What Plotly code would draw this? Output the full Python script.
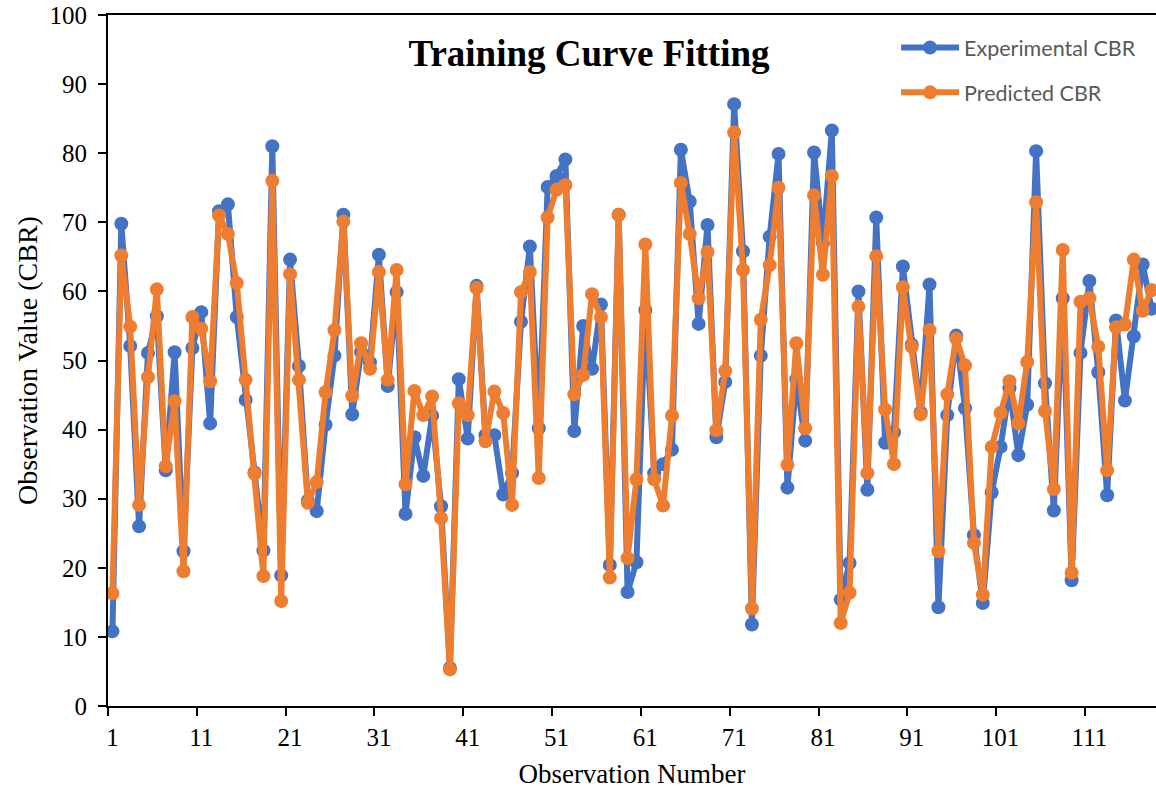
import plotly.graph_objects as go

# Observation index (1..118)
observations = list(range(1, 119))

# Experimental CBR values
experimental_cbr = [
    10.8, 69.8, 52.1, 26.0, 51.1, 56.4, 34.1, 51.2, 22.4, 51.8,
    57.0, 40.9, 71.6, 72.6, 56.3, 44.3, 33.8, 22.5, 81.0, 18.9,
    64.6, 49.2, 29.7, 28.2, 40.7, 50.7, 71.1, 42.2, 51.2, 49.7,
    65.3, 46.3, 59.9, 27.8, 38.9, 33.3, 42.0, 28.9, 5.5, 47.3,
    38.7, 60.8, 39.2, 39.2, 30.6, 33.7, 55.6, 66.5, 40.2, 75.1,
    76.7, 79.1, 39.8, 55.0, 48.8, 58.1, 20.4, 71.1, 16.5, 20.8,
    57.3, 33.7, 35.0, 37.1, 80.5, 73.0, 55.3, 69.6, 38.9, 46.9,
    87.1, 65.8, 11.8, 50.7, 67.9, 79.9, 31.6, 47.3, 38.4, 80.1,
    67.0, 83.3, 15.4, 20.7, 60.0, 31.3, 70.7, 38.1, 39.6, 63.6,
    52.3, 42.5, 61.0, 14.3, 42.1, 53.6, 43.1, 24.7, 14.9, 30.9,
    37.5, 46.0, 36.3, 43.6, 80.3, 46.7, 28.3, 59.0, 18.2, 51.1,
    61.5, 48.3, 30.5, 55.8, 44.2, 53.5, 63.9, 57.5,
]

# Model-predicted CBR values
predicted_cbr = [
    16.3, 65.2, 54.9, 29.1, 47.6, 60.3, 34.7, 44.1, 19.5, 56.3,
    54.6, 47.0, 71.0, 68.3, 61.2, 47.2, 33.6, 18.8, 76.0, 15.2,
    62.5, 47.2, 29.4, 32.4, 45.4, 54.4, 70.1, 44.9, 52.5, 48.8,
    62.8, 47.2, 63.1, 32.1, 45.6, 42.1, 44.8, 27.2, 5.3, 43.8,
    42.1, 60.5, 38.3, 45.5, 42.4, 29.1, 59.9, 62.8, 33.0, 70.7,
    74.7, 75.4, 45.1, 47.9, 59.6, 56.3, 18.6, 71.1, 21.4, 32.8,
    66.8, 32.8, 29.0, 42.0, 75.7, 68.3, 59.0, 65.7, 39.9, 48.5,
    83.0, 63.1, 14.1, 55.9, 63.8, 75.0, 34.9, 52.5, 40.2, 73.9,
    62.4, 76.7, 12.0, 16.4, 57.8, 33.7, 65.1, 42.9, 35.0, 60.6,
    52.0, 42.2, 54.4, 22.4, 45.1, 53.2, 49.3, 23.6, 16.1, 37.5,
    42.4, 47.0, 40.9, 49.8, 72.9, 42.7, 31.4, 66.0, 19.3, 58.5,
    59.0, 52.0, 34.1, 54.8, 55.2, 64.6, 57.2, 60.2,
]

x_tick_values = list(range(1, 112, 10))
x_tick_labels = [str(v) for v in x_tick_values]
y_tick_values = list(range(0, 101, 10))

BLUE = "#4472C4"
ORANGE = "#ED7D31"
SERIF = "Liberation Serif, Times New Roman, serif"
SANS = "Lato, Open Sans, sans-serif"

fig = go.Figure()
fig.add_trace(go.Scatter(
    x=observations, y=experimental_cbr, mode="lines+markers",
    name="Experimental CBR", legend="legend", showlegend=True,
    line=dict(color=BLUE, width=6),
    marker=dict(color=BLUE, size=14),
))
fig.add_trace(go.Scatter(
    x=observations, y=predicted_cbr, mode="lines+markers",
    name="Predicted CBR", legend="legend2", showlegend=True,
    line=dict(color=ORANGE, width=6),
    marker=dict(color=ORANGE, size=14),
))

legend_style = dict(
    xanchor="left", yanchor="middle", visible=True,
    bgcolor="rgba(0,0,0,0)", itemwidth=58,
    font=dict(family=SANS, size=21.5, color="#595959"),
)

fig.update_layout(
    width=1156, height=794,
    margin=dict(l=108, r=0, t=15, b=88),
    paper_bgcolor="white", plot_bgcolor="white",
    showlegend=True,
    title=dict(
        text="<b>Training Curve Fitting</b>",
        font=dict(family=SERIF, size=37, color="black"),
        x=589 / 1156, xanchor="center", xref="container",
        y=1 - 53 / 794, yanchor="middle", yref="container",
    ),
    legend=dict(x=0.752, y=0.953, **legend_style),
    legend2=dict(x=0.752, y=0.888, **legend_style),
    xaxis=dict(
        range=[0.5, 118.5],
        tickmode="array", tickvals=x_tick_values, ticktext=x_tick_labels,
        ticks="", showgrid=False, zeroline=False,
        showline=True, linecolor="black", linewidth=2, mirror=True,
        tickfont=dict(family=SERIF, size=25, color="black"),
        ticklabelstandoff=8,
        minor=dict(ticks="outside", tick0=0.5, dtick=10, ticklen=8,
                   tickwidth=2, tickcolor="black", showgrid=False),
        title=dict(text="Observation Number",
                   font=dict(family=SERIF, size=27, color="black"),
                   standoff=14),
    ),
    yaxis=dict(
        range=[0, 100],
        tickmode="array", tickvals=y_tick_values,
        ticks="outside", ticklen=8, tickwidth=2, tickcolor="black",
        showgrid=False, zeroline=False,
        showline=True, linecolor="black", linewidth=2,
        tickfont=dict(family=SERIF, size=25, color="black"),
        ticklabelstandoff=6,
        title=dict(text="Observation Value (CBR)",
                   font=dict(family=SERIF, size=28, color="black"),
                   standoff=4),
    ),
)

fig.write_html("out.html")
